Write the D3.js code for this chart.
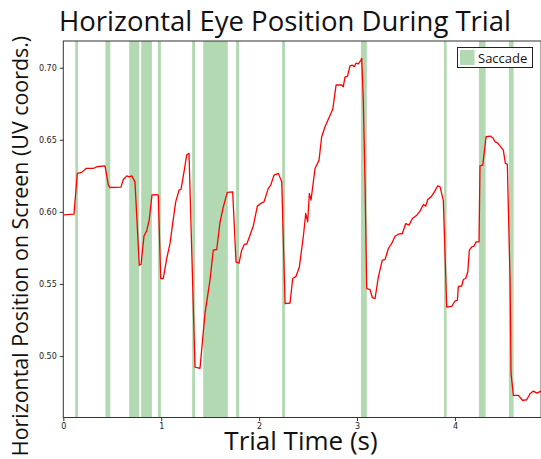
<!DOCTYPE html>
<html lang="en">
<head>
    <meta charset="UTF-8">
    <title>Horizontal Eye Position During Trial</title>
    <script src="https://cdn.jsdelivr.net/npm/d3@7"></script>
    <style>
        body { margin: 0; background: #fff; }
        svg { display: block; }
        .tick text { font-family: 'DejaVu Sans', sans-serif; font-size: 8px; fill: #222; }
    </style>
</head>
<body>
    <svg id="chart" width="541" height="459"></svg>

    <script>
        // eye trace (time in s, horizontal position in UV coords)
        const times = [0.007, 0.109, 0.143, 0.188, 0.232, 0.306, 0.341, 0.426, 0.460, 0.477,
            0.589, 0.613, 0.648, 0.674, 0.699, 0.732, 0.776, 0.794, 0.824, 0.852,
            0.878, 0.906, 0.954, 0.970, 0.995, 1.021, 1.056, 1.090, 1.117, 1.148,
            1.182, 1.202, 1.236, 1.260, 1.284, 1.345, 1.396, 1.447, 1.498, 1.532,
            1.567, 1.601, 1.634, 1.675, 1.730, 1.764, 1.795, 1.822, 1.849, 1.873,
            1.907, 1.941, 1.982, 2.027, 2.050, 2.094, 2.118, 2.152, 2.196, 2.231,
            2.265, 2.316, 2.343, 2.377, 2.411, 2.451, 2.476, 2.496, 2.513, 2.530,
            2.571, 2.612, 2.639, 2.673, 2.752, 2.786, 2.844, 2.860, 2.877, 2.903,
            2.928, 2.952, 2.972, 2.989, 3.013, 3.038, 3.048, 3.064, 3.082, 3.099,
            3.133, 3.156, 3.184, 3.218, 3.258, 3.286, 3.320, 3.354, 3.388, 3.422,
            3.463, 3.497, 3.531, 3.565, 3.610, 3.643, 3.677, 3.702, 3.722, 3.756,
            3.790, 3.824, 3.848, 3.881, 3.916, 3.967, 4.001, 4.025, 4.035, 4.069,
            4.086, 4.110, 4.131, 4.147, 4.172, 4.195, 4.216, 4.246, 4.256, 4.284,
            4.318, 4.359, 4.386, 4.410, 4.433, 4.454, 4.494, 4.515, 4.535, 4.563,
            4.573, 4.597, 4.648, 4.692, 4.733, 4.767, 4.801, 4.836, 4.880];
        const positions = [0.5979, 0.5984, 0.6267, 0.6274, 0.6301, 0.6301, 0.6313, 0.6319, 0.6185, 0.6169,
            0.6172, 0.6225, 0.6250, 0.6243, 0.6250, 0.6208, 0.5630, 0.5635, 0.5833, 0.5868,
            0.5947, 0.6118, 0.6119, 0.6116, 0.5538, 0.5538, 0.5676, 0.5781, 0.5919, 0.6069,
            0.6151, 0.6156, 0.6290, 0.6394, 0.6406, 0.4924, 0.4915, 0.5294, 0.5526, 0.5734,
            0.5739, 0.5931, 0.6035, 0.6135, 0.6139, 0.5653, 0.5644, 0.5734, 0.5776, 0.5776,
            0.5838, 0.5904, 0.6040, 0.6063, 0.6069, 0.6163, 0.6185, 0.6255, 0.6267, 0.6208,
            0.5364, 0.5368, 0.5538, 0.5553, 0.5618, 0.5826, 0.5989, 0.5931, 0.6128, 0.6081,
            0.6301, 0.6359, 0.6521, 0.6590, 0.6711, 0.6880, 0.6880, 0.6868, 0.6935, 0.6942,
            0.7012, 0.7017, 0.7007, 0.7031, 0.7026, 0.7049, 0.7065, 0.6776, 0.6199, 0.5468,
            0.5461, 0.5406, 0.5399, 0.5549, 0.5665, 0.5669, 0.5746, 0.5781, 0.5831, 0.5845,
            0.5850, 0.5919, 0.5908, 0.5954, 0.5977, 0.6005, 0.6051, 0.6040, 0.6086, 0.6104,
            0.6139, 0.6181, 0.6174, 0.6081, 0.5340, 0.5345, 0.5382, 0.5387, 0.5484, 0.5486,
            0.5531, 0.5538, 0.5583, 0.5734, 0.5757, 0.5762, 0.5792, 0.5792, 0.6319, 0.6324,
            0.6521, 0.6526, 0.6514, 0.6486, 0.6479, 0.6463, 0.6428, 0.6336, 0.6331, 0.5526,
            0.4878, 0.4727, 0.4727, 0.4692, 0.4697, 0.4739, 0.4757, 0.4743, 0.4757];

        // saccade intervals (s)
        const saccadeStart = [0.122, 0.430, 0.673, 0.796, 0.966, 1.316, 1.429, 1.765, 2.235, 3.040, 3.888, 4.245, 4.551];
        const saccadeEnd   = [0.150, 0.480, 0.776, 0.905, 0.997, 1.347, 1.680, 1.796, 2.265, 3.100, 3.915, 4.313, 4.599];

        const xTicks = [0, 1, 2, 3, 4];
        const yTicks = [0.50, 0.55, 0.60, 0.65, 0.70];

        const svg = d3.select("#chart");
        const plotLeft = 63.3, plotRight = 541.1, plotTop = 41, plotBottom = 417.5;

        const x = d3.scaleLinear().domain([0, 4.88]).range([plotLeft, plotRight]);
        const y = d3.scaleLinear().domain([0.4574, 0.7185]).range([plotBottom, plotTop]);

        // saccade bands
        svg.append("g")
            .selectAll("rect")
            .data(saccadeStart.map((s, i) => [s, saccadeEnd[i]]))
            .enter()
            .append("rect")
            .attr("x", d => x(d[0]))
            .attr("y", plotTop)
            .attr("width", d => x(d[1]) - x(d[0]))
            .attr("height", plotBottom - plotTop)
            .style("fill", "#b3d9b3");

        // eye trace
        const line = d3.line()
            .x((d, i) => x(times[i]))
            .y(d => y(d));

        svg.append("path")
            .datum(positions)
            .attr("d", line)
            .style("fill", "none")
            .style("stroke", "#ff0000")
            .style("stroke-width", 1.3)
            .style("stroke-linejoin", "round");

        // frame
        svg.append("rect")
            .attr("x", plotLeft)
            .attr("y", plotTop)
            .attr("width", plotRight - plotLeft)
            .attr("height", plotBottom - plotTop)
            .style("fill", "none")
            .style("stroke", "#333")
            .style("stroke-width", 1);

        // axes
        const xAxis = svg.append("g")
            .attr("transform", `translate(0,${plotBottom})`)
            .call(d3.axisBottom(x).tickValues(xTicks).tickFormat(d3.format("d")).tickSize(3.5).tickPadding(2));
        const yAxis = svg.append("g")
            .attr("transform", `translate(${plotLeft},0)`)
            .call(d3.axisLeft(y).tickValues(yTicks).tickFormat(d3.format(".2f")).tickSize(3.5).tickPadding(3));
        [xAxis, yAxis].forEach(a => {
            a.select(".domain").remove();
            a.selectAll(".tick line").style("stroke", "#333");
        });

        // labels
        svg.append("text")
            .attr("x", 285)
            .attr("y", 31)
            .attr("text-anchor", "middle")
            .style("font-family", "'Open Sans', sans-serif")
            .style("font-size", "27.5px")
            .style("fill", "#111")
            .text("Horizontal Eye Position During Trial");

        svg.append("text")
            .attr("x", 301)
            .attr("y", 450)
            .attr("text-anchor", "middle")
            .style("font-family", "'Open Sans', sans-serif")
            .style("font-size", "26px")
            .style("fill", "#111")
            .text("Trial Time (s)");

        svg.append("text")
            .attr("transform", "translate(28,246) rotate(-90)")
            .attr("text-anchor", "middle")
            .style("font-family", "'Open Sans', sans-serif")
            .style("font-size", "21.4px")
            .style("fill", "#111")
            .text("Horizontal Position on Screen (UV coords.)");

        // legend
        const legend = svg.append("g").attr("transform", "translate(457.5,47.5)");
        legend.append("rect")
            .attr("width", 75)
            .attr("height", 20)
            .style("fill", "#fff")
            .style("stroke", "#222")
            .style("stroke-width", 1);
        legend.append("rect")
            .attr("x", 2.5)
            .attr("y", 2.5)
            .attr("width", 14.5)
            .attr("height", 15)
            .style("fill", "#b3d9b3");
        legend.append("text")
            .attr("x", 20.5)
            .attr("y", 15)
            .style("font-family", "'Open Sans', sans-serif")
            .style("font-size", "13px")
            .style("fill", "#111")
            .text("Saccade");
    </script>
</body>
</html>
